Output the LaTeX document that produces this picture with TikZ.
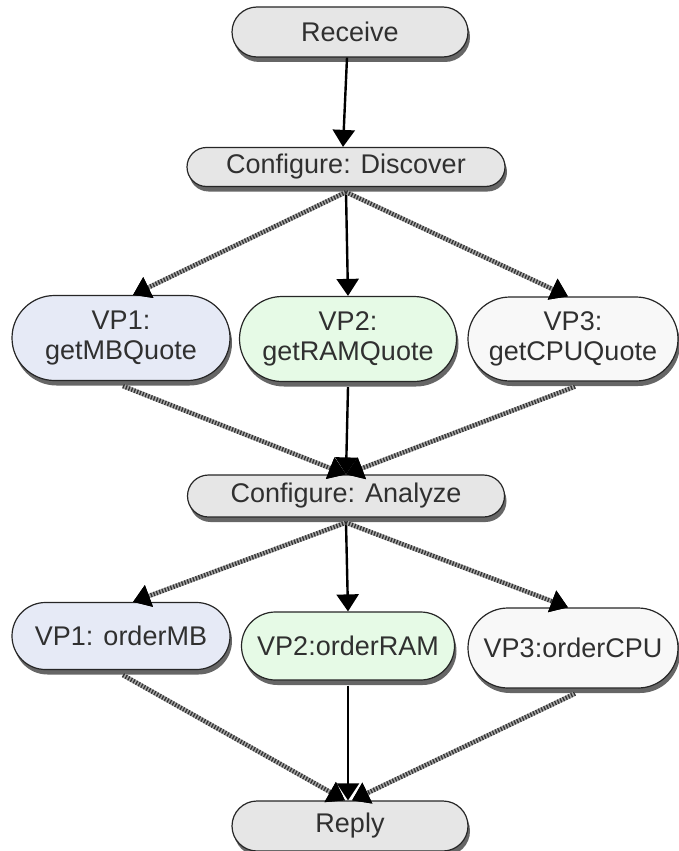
\documentclass[tikz,border=0pt]{standalone}
\usepackage{fontspec}
\setmainfont{Liberation Sans}
\usetikzlibrary{shapes.misc,shadows,arrows.meta}

\definecolor{boxgray}{HTML}{E6E6E6}
\definecolor{vpblue}{HTML}{E6EAF6}
\definecolor{vpgreen}{HTML}{E6FAE6}
\definecolor{vpwhite}{HTML}{F8F8F8}
\definecolor{txt}{HTML}{303030}

\tikzset{
  act/.style={rounded rectangle, draw=black!85, line width=1.2pt, inner sep=0pt,
    text=txt, align=center,
    font=\fontsize{27}{30}\selectfont,
    drop shadow={shadow xshift=2pt, shadow yshift=-5pt, fill=black!60, opacity=1}},
  headtip/.tip={Triangle[length=17pt,width=22pt,fill=black,color=black]},
  flow/.style={line width=2.4pt, black, -headtip},
  fan/.style={-headtip, line width=4.5pt, draw=black!80, dash pattern=on 1.3pt off 1.7pt,
    preaction={draw=black!35, line width=4.5pt, -headtip}}
}

\begin{document}
\begin{tikzpicture}[x=1pt, y=-1pt]
  \useasboundingbox (0,0) rectangle (679,851);

  % activities
  \node[act, fill=boxgray, minimum width=236pt, minimum height=50pt] (recv) at (350,32) {Receive};
  \node[act, fill=boxgray, minimum width=318pt, minimum height=39pt] (disc) at (346,167) {Configure: Discover};

  \node[act, fill=vpblue,  minimum width=218pt, minimum height=85pt] (q1) at (121,338) {VP1:\\getMBQuote};
  \node[act, fill=vpgreen, minimum width=217pt, minimum height=85pt] (q2) at (348,339) {VP2:\\getRAMQuote};
  \node[act, fill=vpwhite, minimum width=210pt, minimum height=84pt] (q3) at (573,339) {VP3:\\getCPUQuote};

  \node[act, fill=boxgray, minimum width=317pt, minimum height=42pt] (anal) at (346,496) {Configure: Analyze};

  \node[act, fill=vpblue,  minimum width=218pt, minimum height=67pt] (o1) at (121,636) {VP1: orderMB};
  \node[act, fill=vpgreen, minimum width=213pt, minimum height=68pt] (o2) at (348,646) {VP2:orderRAM};
  \node[act, fill=vpwhite, minimum width=210pt, minimum height=80pt] (o3) at (573,648) {VP3:orderCPU};

  \node[act, fill=boxgray, minimum width=236pt, minimum height=50pt] (reply) at (350,826) {Reply};

  % control flow
  \draw[flow] ([xshift=-3pt]recv.south) -- ([xshift=-3pt]disc.north);

  \draw[fan]  ([yshift=-5pt]disc.south) -- ([xshift=12pt]q1.north);
  \draw[flow] ([yshift=-5pt]disc.south) -- (q2.north);
  \draw[fan]  ([yshift=-5pt]disc.south) -- ([xshift=-5pt]q3.north);

  \draw[fan]  ([xshift=2pt,yshift=-5pt]q1.south) -- (anal.north);
  \draw[flow] ([yshift=-5pt]q2.south) -- (anal.north);
  \draw[fan]  ([xshift=2pt,yshift=-5pt]q3.south) -- (anal.north);

  \draw[fan]  ([yshift=-5pt]anal.south) -- ([xshift=12pt]o1.north);
  \draw[flow] ([yshift=-5pt]anal.south) -- (o2.north);
  \draw[fan]  ([yshift=-5pt]anal.south) -- ([xshift=-5pt]o3.north);

  \draw[fan]  ([xshift=2pt,yshift=-5pt]o1.south) -- ([xshift=-5pt]reply.north);
  \draw[flow] ([yshift=-5pt]o2.south) -- ([xshift=-2pt]reply.north);
  \draw[fan]  ([xshift=2pt,yshift=-5pt]o3.south) -- ([xshift=2pt]reply.north);
\end{tikzpicture}
\end{document}
